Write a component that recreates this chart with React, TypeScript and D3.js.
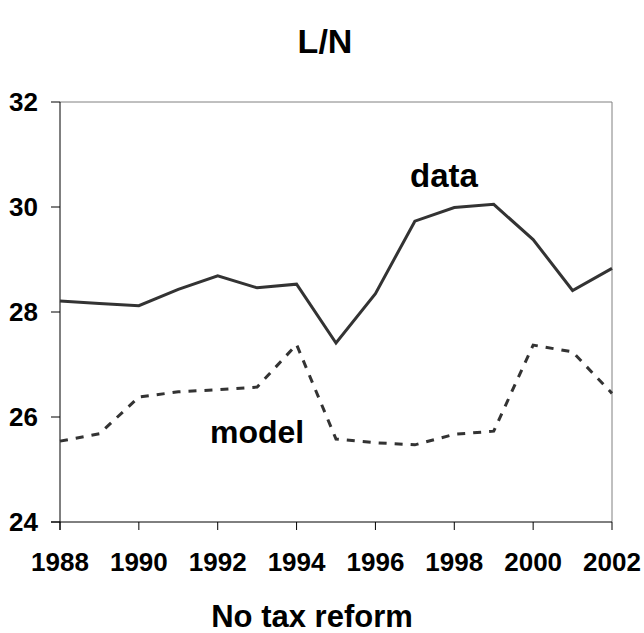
import React from 'react';
import * as d3 from 'd3';

// years on the x axis
const years = [1988, 1989, 1990, 1991, 1992, 1993, 1994, 1995, 1996, 1997, 1998, 1999, 2000, 2001, 2002];

// L/N, observed
const dataSeries = [28.21, 28.16, 28.12, 28.43, 28.69, 28.46, 28.53, 27.41, 28.35, 29.73, 29.99, 30.05, 29.38, 28.41, 28.83];

// L/N, model without tax reform
const modelSeries = [25.54, 25.68, 26.38, 26.48, 26.52, 26.57, 27.38, 25.58, 25.51, 25.47, 25.67, 25.73, 27.37, 27.24, 26.45];

const xTicks = [1988, 1990, 1992, 1994, 1996, 1998, 2000, 2002];
const yTicks = [24, 26, 28, 30, 32];

const W = 644;
const H = 633;
const margin = { top: 102, right: 32, bottom: 111, left: 60 };
const FONT = '"Liberation Sans", Arial, sans-serif';

const App = () => {
  const x = d3
    .scaleLinear()
    .domain([1988, 2002])
    .range([margin.left, W - margin.right]);

  const y = d3
    .scaleLinear()
    .domain([24, 32])
    .range([H - margin.bottom, margin.top]);

  const line = d3
    .line<number>()
    .x((_, i) => x(years[i]))
    .y(d => y(d));

  const x0 = x(1988);
  const x1 = x(2002);
  const y0 = y(24);
  const y1 = y(32);

  return (
    <svg
      width={W}
      height={H}
      style={{ position: 'absolute', left: 0, top: 0, background: '#fff' }}
      fontFamily={FONT}
      fontWeight="bold"
    >
      <rect x={0} y={0} width={W} height={H} fill="#fff" />

      {/* title */}
      <text x={325} y={53} textAnchor="middle" fontSize={34}>
        L/N
      </text>

      {/* plot frame: grey top and right, black axes */}
      <line x1={x0} x2={x1} y1={y1} y2={y1} stroke="#808080" strokeWidth={1} />
      <line x1={x1} x2={x1} y1={y1} y2={y0} stroke="#808080" strokeWidth={1} />
      <line x1={x0} x2={x0} y1={y1} y2={y0 + 8} stroke="#000" strokeWidth={1} />
      <line x1={x0 - 9} x2={x1} y1={y0} y2={y0} stroke="#000" strokeWidth={1} />

      {/* y ticks */}
      {yTicks.map(t => (
        <g key={t}>
          <line x1={x0 - 9} x2={x0} y1={y(t)} y2={y(t)} stroke="#000" />
          <text x={38} y={y(t)} dy="0.36em" textAnchor="end" fontSize={26}>
            {t}
          </text>
        </g>
      ))}

      {/* x ticks */}
      {xTicks.map(t => (
        <g key={t}>
          <line x1={x(t)} x2={x(t)} y1={y0} y2={y0 + 8} stroke="#000" />
          <text x={x(t)} y={571} textAnchor="middle" fontSize={26}>
            {t}
          </text>
        </g>
      ))}

      {/* series */}
      <path d={line(modelSeries) || ''} fill="none" stroke="#333" strokeWidth={3} strokeDasharray="8,8" />
      <path d={line(dataSeries) || ''} fill="none" stroke="#333" strokeWidth={3} strokeLinejoin="miter" />

      {/* series labels */}
      <text x={410} y={187} fontSize={33}>
        data
      </text>
      <text x={210} y={443} fontSize={32}>
        model
      </text>

      {/* axis title */}
      <text x={312} y={627} textAnchor="middle" fontSize={31}>
        No tax reform
      </text>
    </svg>
  );
};

export default App;
